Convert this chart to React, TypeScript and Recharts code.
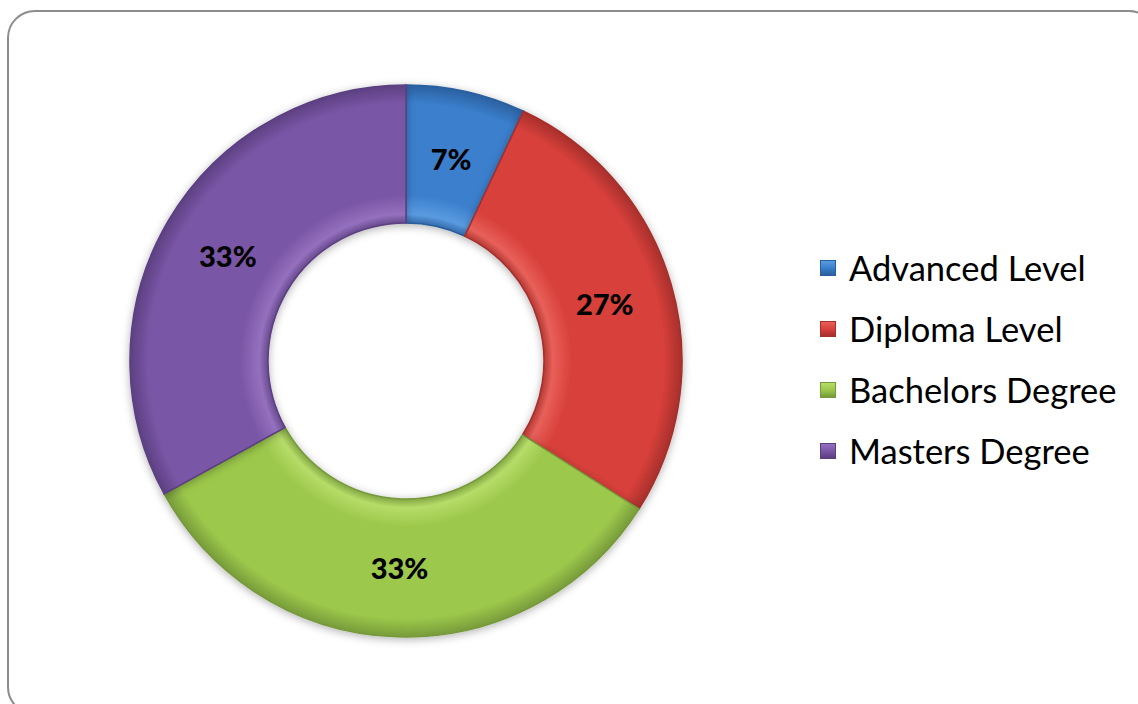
import React from 'react';
import { PieChart, Pie, Cell, Legend } from 'recharts';

const categories = ['Advanced Level', 'Diploma Level', 'Bachelors Degree', 'Masters Degree'];
const values = [7, 27, 33, 33];
const labels = ['7%', '27%', '33%', '33%'];

const COLORS = [
  { base: '#3b7fcd', light: '#5a9be0', dark: '#2a5f9e' },
  { base: '#d8403b', light: '#e8605a', dark: '#a52f2b' },
  { base: '#9cc84b', light: '#b6dc68', dark: '#76993a' },
  { base: '#7a56a6', light: '#9470be', dark: '#5b3f80' },
];

const data = categories.map((name, i) => ({ name, value: values[i], label: labels[i] }));

const RAD = Math.PI / 180;

// chart margin is 5 by default, so centre is offset by that
const CX = 401;
const CY = 356;

const renderLabel = (props: any) => {
  const { cx, cy, midAngle, innerRadius, outerRadius, index } = props;
  const r = (innerRadius + outerRadius) / 2;
  const x = cx + r * Math.cos(-midAngle * RAD);
  const y = cy + r * Math.sin(-midAngle * RAD);
  return (
    <text
      x={x}
      y={y}
      textAnchor="middle"
      dominantBaseline="central"
      fontFamily="Lato, sans-serif"
      fontWeight="900"
      fontSize={29}
      fill="#000"
    >
      {labels[index]}
    </text>
  );
};

const renderLegend = () => (
  <div style={{ fontFamily: 'Lato, sans-serif', fontSize: 34.5, color: '#000' }}>
    {categories.map((name, i) => (
      <div key={name} style={{ display: 'flex', alignItems: 'center', height: 61 }}>
        <span
          style={{
            display: 'inline-block',
            width: 16,
            height: 16,
            marginRight: 13,
            background: `linear-gradient(180deg, ${COLORS[i].light}, ${COLORS[i].base} 50%, ${COLORS[i].dark})`,
            border: `1px solid ${COLORS[i].dark}`,
            boxSizing: 'border-box',
          }}
        />
        <span>{name}</span>
      </div>
    ))}
  </div>
);

export default function App() {
  return (
    <div style={{ position: 'absolute', left: 0, top: 0, width: 1138, height: 704, overflow: 'hidden', background: '#fff' }}>
      <div
        style={{
          position: 'absolute',
          left: 7,
          top: 10,
          width: 1150,
          height: 705,
          border: '2px solid #8c8c8c',
          borderRadius: 28,
          boxSizing: 'border-box',
        }}
      />
      <div style={{ position: 'absolute', left: 0, top: 0 }}>
        <PieChart width={1138} height={704}>
          <defs>
            {COLORS.map((c, i) => (
              <radialGradient key={i} id={`g${i}`} cx={CX + 5} cy={CY + 5} r={277} gradientUnits="userSpaceOnUse">
                <stop offset="0.49" stopColor={c.dark} />
                <stop offset="0.53" stopColor={c.light} />
                <stop offset="0.6" stopColor={c.base} />
                <stop offset="0.93" stopColor={c.base} />
                <stop offset="1" stopColor={c.dark} />
              </radialGradient>
            ))}
            <filter id="shadow" x="-10%" y="-10%" width="120%" height="120%">
              <feDropShadow dx="0" dy="2" stdDeviation="4" floodColor="#000" floodOpacity="0.3" />
            </filter>
          </defs>
          <Pie
            data={data}
            dataKey="value"
            nameKey="name"
            cx={CX}
            cy={CY}
            innerRadius={138}
            outerRadius={276}
            startAngle={90}
            endAngle={-270}
            label={renderLabel}
            labelLine={false}
            isAnimationActive={false}
            style={{ filter: 'url(#shadow)' }}
          >
            {data.map((d, i) => (
              <Cell key={d.name} fill={`url(#g${i})`} stroke={COLORS[i].dark} strokeWidth={1.5} />
            ))}
          </Pie>
          <Legend
            layout="vertical"
            content={renderLegend}
            wrapperStyle={{ position: 'absolute', left: 820, top: 237, width: 320 }}
          />
        </PieChart>
      </div>
    </div>
  );
}
